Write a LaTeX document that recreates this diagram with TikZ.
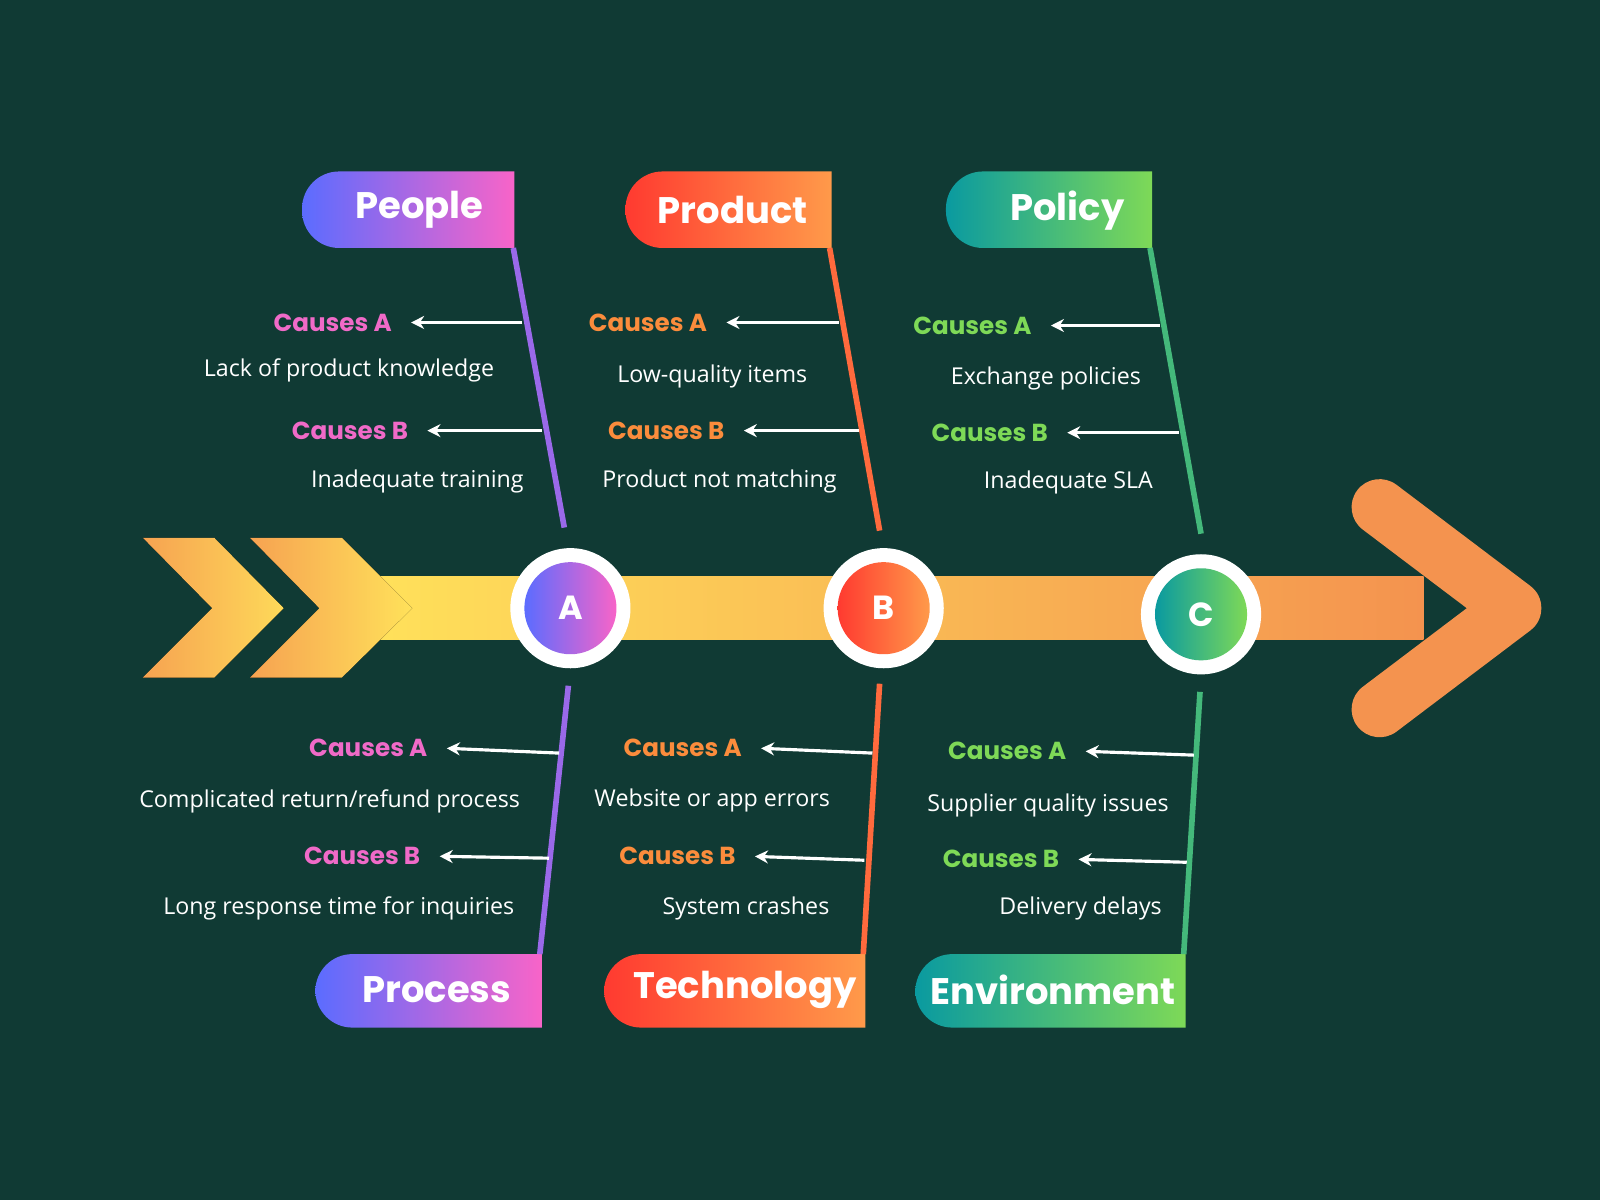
\documentclass[tikz,border=0pt]{standalone}
\usepackage{fontspec}
\setmainfont{Open Sans}
\newfontfamily\titlefont{Poppins}
\usetikzlibrary{arrows.meta,positioning}
\definecolor{bgdark}{HTML}{103A34}
\definecolor{spineyel}{HTML}{FFE15A}
\definecolor{spineorg}{HTML}{F4934F}
\definecolor{pplblue}{HTML}{5B6CFF}
\definecolor{ppldpink}{HTML}{F864C8}
\definecolor{prodred}{HTML}{FF3A30}
\definecolor{prodorg}{HTML}{FF9A4A}
\definecolor{polteal}{HTML}{0A9AA0}
\definecolor{polgreen}{HTML}{7ED957}
\definecolor{causepink}{HTML}{F06AC8}
\definecolor{causeorg}{HTML}{FB8C3C}
\definecolor{causegreen}{HTML}{7ED957}

% tag with a round left end and a square right end
\newcommand{\tagshape}[6]{%
  \path[left color=#5, right color=#6]
    (#2,#4) [sharp corners] -- (#2,#3) [rounded corners=0.37cm] -- (#1,#3)
    -- (#1,#4) [sharp corners] -- cycle;}

\begin{document}
\begin{tikzpicture}[
    x=0.0102cm, y=-0.0102cm,
    title/.style={font=\titlefont\bfseries\fontsize{10.5}{12}\selectfont, text=white},
    cause/.style={font=\titlefont\bfseries\fontsize{7}{8}\selectfont, anchor=east},
    detail/.style={font=\fontsize{6.6}{8}\selectfont, text=white},
    bone/.style={line width=1.6pt},
    tip/.style={white, line width=0.9pt, -{Stealth[length=1.3mm,width=1.3mm]}, shorten >=2pt},
    ring/.style={circle, fill=white, minimum size=1.2cm, inner sep=0pt},
    hub/.style={circle, minimum size=0.92cm, inner sep=0pt, text=white,
        font=\titlefont\bfseries\fontsize{9.5}{10}\selectfont}
]

% Background
\fill[bgdark] (0,0) rectangle (1568,1176);
\useasboundingbox (0,0) rectangle (1568,1176);

% Spine
\fill[left color=spineyel, right color=spineorg] (365,565) rectangle (1395,627);
\fill[left color=spineorg!80!spineyel, right color=spineyel!90!spineorg]
  (140,527) -- (210,527) -- (278,596) -- (210,664) -- (140,664) -- (208,596) -- cycle;
\fill[left color=spineorg!80!spineyel, right color=spineyel]
  (245,527) -- (335,527) -- (404,596) -- (335,664) -- (245,664) -- (313,596) -- cycle;
\draw[spineorg, line width=0.56cm, line cap=round, line join=round]
  (1352,497) -- (1483,596) -- (1352,695);

% Hubs
\node[ring] (ringa) at (559,596) {};
\node[hub, left color=pplblue, right color=ppldpink] (hubA) at (559,596) {A};
\node[ring] (ringb) at (866,596) {};
\node[hub, left color=prodred, right color=prodorg] (hubB) at (866,596) {B};
\node[ring] (ringc) at (1177,602) {};
\node[hub, left color=polteal, right color=polgreen] (hubC) at (1177,602) {C};

% Tags
\tagshape{296}{504}{168}{243}{pplblue}{ppldpink}
\node[title] (people) at (411,206) {People};
\tagshape{613}{815}{168}{243}{prodred}{prodorg}
\node[title] (product) at (718,206) {Product};
\tagshape{927}{1129}{168}{243}{polteal}{polgreen}
\node[title] (policy) at (1046,206) {Policy};
\tagshape{309}{531}{935}{1007}{pplblue}{ppldpink}
\node[title] (process) at (428,970) {Process};
\tagshape{592}{848}{935}{1007}{prodred}{prodorg}
\node[title] (technology) at (730,970) {Technology};
\tagshape{897}{1162}{935}{1007}{polteal}{polgreen}
\node[title] (environment) at (1032,970) {Environment};

% Bones
\coordinate (pplend) at (553,517);
\coordinate (prodend) at (862,520);
\coordinate (polend) at (1177,523);
\coordinate (procend) at (557,672);
\coordinate (techend) at (862,670);
\coordinate (envend) at (1176,678);
\draw[bone, pplblue!60!ppldpink] (503,243) -- (pplend);
\draw[bone, prodred!50!prodorg] (813,243) -- (prodend);
\draw[bone, polteal!50!polgreen] (1127,243) -- (polend);
\draw[bone, pplblue!60!ppldpink] (procend) -- (529,935);
\draw[bone, prodred!50!prodorg] (techend) -- (846,935);
\draw[bone, polteal!50!polgreen] (envend) -- (1160,935);

% People
\node[cause, causepink] (pplA) at (396,316) {Causes A};
\draw[tip] (512,316) -- (pplA.east);
\node[detail] (pplAd) at (342,363) {Lack of product knowledge};
\node[cause, causepink] (pplB) at (412,422) {Causes B};
\draw[tip] (531,422) -- (pplB.east);
\node[detail] (pplBd) at (409,472) {Inadequate training};

% Product
\node[cause, causeorg] (prodA) at (705,316) {Causes A};
\draw[tip] (822,316) -- (prodA.east);
\node[detail] (prodAd) at (698,369) {Low-quality items};
\node[cause, causeorg] (prodB) at (722,422) {Causes B};
\draw[tip] (842,422) -- (prodB.east);
\node[detail] (prodBd) at (705,472) {Product not matching};

% Policy
\node[cause, causegreen] (polA) at (1023,319) {Causes A};
\draw[tip] (1137,319) -- (polA.east);
\node[detail] (polAd) at (1025,371) {Exchange policies};
\node[cause, causegreen] (polB) at (1039,424) {Causes B};
\draw[tip] (1155,424) -- (polB.east);
\node[detail] (polBd) at (1047,473) {Inadequate SLA};

% Process
\node[cause, causepink] (procA) at (431,733) {Causes A};
\draw[tip] (548,738) -- (procA.east);
\node[detail] (procAd) at (323,785) {Complicated return/refund process};
\node[cause, causepink] (procB) at (424,839) {Causes B};
\draw[tip] (538,841) -- (procB.east);
\node[detail] (procBd) at (332,890) {Long response time for inquiries};

% Technology
\node[cause, causeorg] (techA) at (739,733) {Causes A};
\draw[tip] (855,738) -- (techA.east);
\node[detail] (techAd) at (698,784) {Website or app errors};
\node[cause, causeorg] (techB) at (733,839) {Causes B};
\draw[tip] (847,843) -- (techB.east);
\node[detail] (techBd) at (731,890) {System crashes};

% Environment
\node[cause, causegreen] (envA) at (1057,736) {Causes A};
\draw[tip] (1170,740) -- (envA.east);
\node[detail] (envAd) at (1027,789) {Supplier quality issues};
\node[cause, causegreen] (envB) at (1050,842) {Causes B};
\draw[tip] (1163,845) -- (envB.east);
\node[detail] (envBd) at (1059,890) {Delivery delays};

\end{tikzpicture}
\end{document}
